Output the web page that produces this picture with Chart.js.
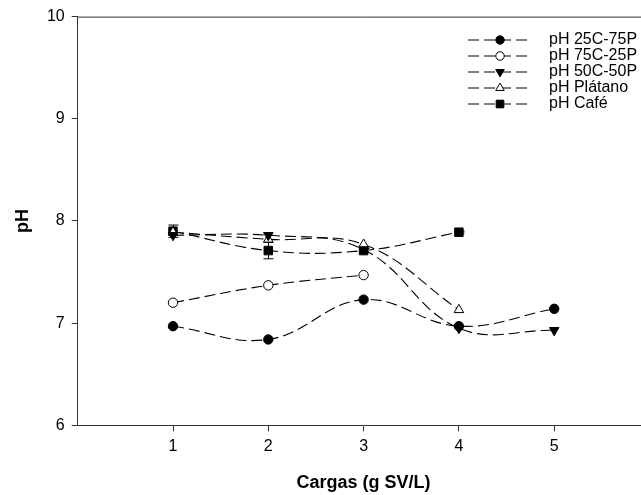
<!DOCTYPE html>
<html>
<head>
<meta charset="utf-8">
<script src="https://cdn.jsdelivr.net/npm/chart.js@4/dist/chart.umd.min.js"></script>
<style>
  html, body { margin: 0; padding: 0; background: #fff; overflow: hidden; }
  #wrap { width: 660px; height: 495px; }
</style>
</head>
<body>
<div id="wrap"><canvas id="phChart"></canvas></div>
<script>
// cargas (g SV/L)
const cargas = [1, 2, 3, 4, 5];
const xTicks = [1, 2, 3, 4, 5];
const yTicks = [6, 7, 8, 9, 10];

// pH por tratamiento
const ph25C75P = [6.97, 6.84, 7.23, 6.97, 7.14];
const ph75C25P = [7.20, 7.37, 7.47, null, null];
const ph50C50P = [7.86, 7.86, 7.72, 6.95, 6.93];
const phPlatano = [7.89, 7.82, 7.77, 7.13, null];
const phCafe = [7.90, 7.71, 7.71, 7.89, null];
const errCafe = [0.06, 0.08, 0.02, 0.01, null];

const font = "'Liberation Sans', Arial, sans-serif";

function toPoints(values) {
  return cargas.map((x, i) => ({ x: x, y: values[i] })).filter(p => p.y !== null);
}

function serie(label, values, style, fill, radius, rotation) {
  return {
    label: label,
    data: toPoints(values),
    borderColor: '#000',
    borderWidth: 1.1,
    borderDash: [11, 5],
    tension: 0.4,
    fill: false,
    pointStyle: style,
    pointRadius: radius,
    pointHoverRadius: radius,
    pointRotation: rotation || 0,
    pointBackgroundColor: fill,
    pointBorderColor: '#000',
    pointBorderWidth: 1
  };
}

// marco superior y derecho
const frame = {
  id: 'frame',
  afterDraw(chart) {
    const { ctx, chartArea: a } = chart;
    ctx.save();
    ctx.strokeStyle = '#333';
    ctx.lineWidth = 1;
    ctx.beginPath();
    ctx.moveTo(a.left, a.top + 0.5);
    ctx.lineTo(a.right, a.top + 0.5);
    ctx.lineTo(a.right, a.bottom);
    ctx.stroke();
    ctx.restore();
  }
};

// barras de error del café
const errorBars = {
  id: 'errorBars',
  beforeDatasetsDraw(chart) {
    const { ctx, scales: { x, y } } = chart;
    ctx.save();
    ctx.strokeStyle = '#000';
    ctx.lineWidth = 1;
    cargas.forEach((c, i) => {
      if (phCafe[i] === null || !errCafe[i]) return;
      const px = Math.round(x.getPixelForValue(c)) + 0.5;
      const top = y.getPixelForValue(phCafe[i] + errCafe[i]);
      const bot = y.getPixelForValue(phCafe[i] - errCafe[i]);
      ctx.beginPath();
      ctx.moveTo(px, top); ctx.lineTo(px, bot);
      ctx.moveTo(px - 5, top); ctx.lineTo(px + 5, top);
      ctx.moveTo(px - 5, bot); ctx.lineTo(px + 5, bot);
      ctx.stroke();
    });
    ctx.restore();
  }
};

// leyenda con línea discontinua y marcador
const legendBox = {
  id: 'legendBox',
  afterDraw(chart) {
    const { ctx } = chart;
    ctx.save();
    chart.data.datasets.forEach((ds, i) => {
      const yy = 40 + i * 16;
      ctx.strokeStyle = '#000';
      ctx.lineWidth = 1;
      ctx.setLineDash(ds.borderDash);
      ctx.beginPath();
      ctx.moveTo(468, yy);
      ctx.lineTo(528, yy);
      ctx.stroke();
      ctx.setLineDash([]);
      ctx.fillStyle = ds.pointBackgroundColor;
      ctx.strokeStyle = '#000';
      Chart.helpers.drawPoint(ctx, {
        pointStyle: ds.pointStyle,
        rotation: ds.pointRotation,
        radius: ds.pointRadius * 0.9,
        borderWidth: 1
      }, 500, yy);
      ctx.fillStyle = '#000';
      ctx.font = '16px ' + font;
      ctx.textBaseline = 'middle';
      ctx.textAlign = 'left';
      ctx.fillText(ds.label, 549, yy);
    });
    ctx.restore();
  }
};

new Chart(document.getElementById('phChart').getContext('2d'), {
  type: 'line',
  data: {
    datasets: [
      serie('pH 25C-75P', ph25C75P, 'circle', '#000', 4.7),
      serie('pH 75C-25P', ph75C25P, 'circle', '#fff', 4.7),
      serie('pH 50C-50P', ph50C50P, 'triangle', '#000', 5.5, 180),
      serie('pH Plátano', phPlatano, 'triangle', '#fff', 5.5),
      serie('pH Café', phCafe, 'rect', '#000', 6)
    ]
  },
  options: {
    responsive: true,
    maintainAspectRatio: false,
    animation: false,
    layout: { padding: { top: 14.7, right: 10.5, bottom: 0, left: 0 } },
    plugins: {
      legend: { display: false },
      tooltip: { enabled: false }
    },
    scales: {
      x: {
        type: 'linear',
        min: 0,
        max: 6,
        afterBuildTicks: s => { s.ticks = xTicks.map(v => ({ value: v })); },
        afterFit: s => { s.height = 69.7; },
        ticks: { color: '#000', padding: 6, font: { family: font, size: 16 } },
        grid: { display: true, drawOnChartArea: false, tickLength: 6, color: '#333' },
        border: { display: true, color: '#333', width: 1 },
        title: {
          display: true,
          text: 'Cargas (g SV/L)',
          color: '#000',
          font: { family: font, size: 18, weight: 'bold' },
          padding: { top: 0, bottom: 1.2 }
        }
      },
      y: {
        min: 6,
        max: 10,
        afterBuildTicks: s => { s.ticks = yTicks.map(v => ({ value: v })); },
        afterFit: s => { s.width = 77.7; },
        ticks: { color: '#000', padding: 7, font: { family: font, size: 16 } },
        grid: { display: true, drawOnChartArea: false, tickLength: 6, color: '#333' },
        border: { display: true, color: '#333', width: 1 },
        title: {
          display: true,
          text: 'pH',
          color: '#000',
          font: { family: font, size: 18, weight: 'bold' },
          padding: { top: 12.2, bottom: 0 }
        }
      }
    }
  },
  plugins: [frame, errorBars, legendBox]
});
</script>
</body>
</html>
